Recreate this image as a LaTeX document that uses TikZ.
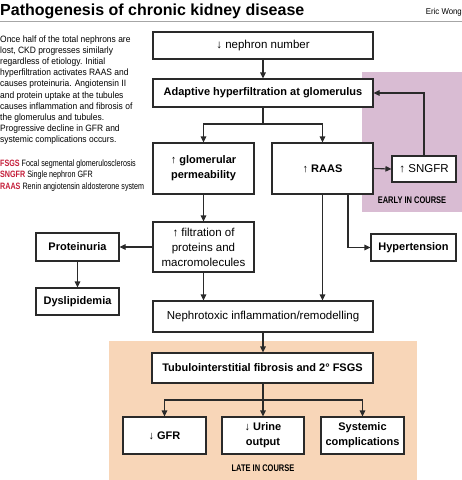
\documentclass[tikz,border=0pt]{standalone}
\usepackage{fontspec}
\setmainfont{Liberation Sans}
\newfontfamily\paraf[FakeStretch=0.92]{Liberation Sans}
\newfontfamily\narrowf[FakeStretch=0.78]{Liberation Sans}
\usetikzlibrary{arrows.meta}
\definecolor{early}{HTML}{D9BCD3}
\definecolor{late}{HTML}{F8D6B8}
\definecolor{abbr}{HTML}{C41E3A}
\definecolor{edge}{HTML}{2A2A2A}
\begin{document}
\begin{tikzpicture}[x=1pt,y=-1pt,
  box/.style={draw=edge, line width=1.1pt, fill=white, inner sep=2pt, align=center,
    font=\fontsize{11.5}{15}\selectfont},
  bbox/.style={box, font=\fontsize{11}{15}\selectfont\bfseries},
  arr/.style={draw=edge, line width=1.1pt, -{Triangle[length=6pt,width=5.5pt]}},
  ln/.style={draw=edge, line width=1.1pt},
  para/.style={anchor=base west, inner sep=0pt, font=\paraf\fontsize{9.2}{11}\selectfont},
  abbrl/.style={anchor=base west, inner sep=0pt, font=\narrowf\fontsize{9.2}{11}\selectfont},
  stage/.style={inner sep=0pt, font=\narrowf\fontsize{9.6}{11}\selectfont\bfseries}]
\useasboundingbox (0,0) rectangle (462,480);
% background regions
\fill[early] (362,72) rectangle (462,212);
\fill[late] (109,341) rectangle (417,480);
% title
\node[anchor=base west, inner sep=0pt, font=\fontsize{16}{18}\selectfont\bfseries] (title) at (0,15) {Pathogenesis of chronic kidney disease};
\node[anchor=base east, inner sep=0pt, font=\paraf\fontsize{8.5}{10}\selectfont] (author) at (462,14.5) {Eric Wong};
\draw[gray!70, line width=0.8pt] (0,21) -- (462,21);
% paragraph
\foreach \t [count=\i from 0] in {{Once half of the total nephrons are},{lost, CKD progresses similarly},{regardless of etiology. Initial},{hyperfiltration activates RAAS and},{causes proteinuria. Angiotensin II},{and protein uptake at the tubules},{causes inflammation and fibrosis of},{the glomerulus and tubules.},{Progressive decline in GFR and},{systemic complications occurs.}}
  \node[para] (p\i) at (0,42.5+11.1*\i) {\t};
\node[abbrl] (a1) at (0,166.5) {\textcolor{abbr}{\bfseries FSGS} Focal segmental glomerulosclerosis};
\node[abbrl] (a2) at (0,177.5) {\textcolor{abbr}{\bfseries SNGFR} Single nephron GFR};
\node[abbrl] (a3) at (0,189) {\textcolor{abbr}{\bfseries RAAS} Renin angiotensin aldosterone system};
% nodes
\node[box, minimum width=220pt, minimum height=27pt] (nephron) at (263,45.5) {↓ nephron number};
\node[bbox, minimum width=220pt, minimum height=28pt] (adaptive) at (263,93) {Adaptive hyperfiltration at glomerulus};
\node[bbox, minimum width=101pt, minimum height=51pt] (perm) at (203.5,168.5) {↑ glomerular\\permeability};
\node[bbox, minimum width=101pt, minimum height=51pt] (raas) at (322.5,168.5) {↑ RAAS};
\node[box, minimum width=64pt, minimum height=26pt] (sngfr) at (424,169) {↑ SNGFR};
\node[box, minimum width=101pt, minimum height=50pt] (filt) at (203.5,247) {↑ filtration of\\proteins and\\macromolecules};
\node[bbox, minimum width=83pt, minimum height=28pt] (prot) at (77.5,247) {Proteinuria};
\node[bbox, minimum width=83pt, minimum height=27pt] (dysl) at (77.5,301.5) {Dyslipidemia};
\node[bbox, minimum width=85pt, minimum height=27pt] (hyper) at (413.5,247.5) {Hypertension};
\node[box, minimum width=220pt, minimum height=31pt] (nephro) at (263,316.5) {Nephrotoxic inflammation/remodelling};
\node[bbox, minimum width=221pt, minimum height=30pt] (tubulo) at (262.5,368) {Tubulointerstitial fibrosis and 2° FSGS};
\node[bbox, minimum width=83pt, minimum height=37pt] (gfr) at (164.5,435.5) {↓ GFR};
\node[bbox, minimum width=82pt, minimum height=37pt] (urine) at (263,435.5) {↓ Urine\\output};
\node[bbox, minimum width=83pt, minimum height=37pt] (syst) at (362.5,435.5) {Systemic\\complications};
\node[stage] (early) at (412,200) {EARLY IN COURSE};
\node[stage] (late) at (263,468) {LATE IN COURSE};
% connectors
\draw[arr] (nephron) -- (adaptive);
\coordinate (j1) at (263,124);
\draw[ln] (adaptive.south) -- (j1);
\draw[arr] (j1) -| (perm.north);
\draw[arr] (j1) -| (raas.north);
\draw[arr] (raas.east) -- (sngfr.west);
\draw[arr] (sngfr.north) |- (adaptive.east);
\draw[arr] (perm) -- (filt);
\draw[arr] (filt) -- (prot);
\draw[arr] (prot) -- (dysl);
\draw[arr] (filt.south) -- (filt.south |- nephro.north);
\draw[arr] (raas.south) -- (raas.south |- nephro.north);
\coordinate (r2) at ([xshift=25.5pt]raas.south);
\draw[arr] (r2) |- (hyper.west);
\draw[arr] (nephro.south) -- (nephro.south |- tubulo.north);
\coordinate (j2) at (263,400);
\draw[ln] (tubulo.south -| j2) -- (j2);
\draw[arr] (j2) -| (gfr.north);
\draw[arr] (j2) -- (urine.north);
\draw[arr] (j2) -| (syst.north);
\end{tikzpicture}
\end{document}
